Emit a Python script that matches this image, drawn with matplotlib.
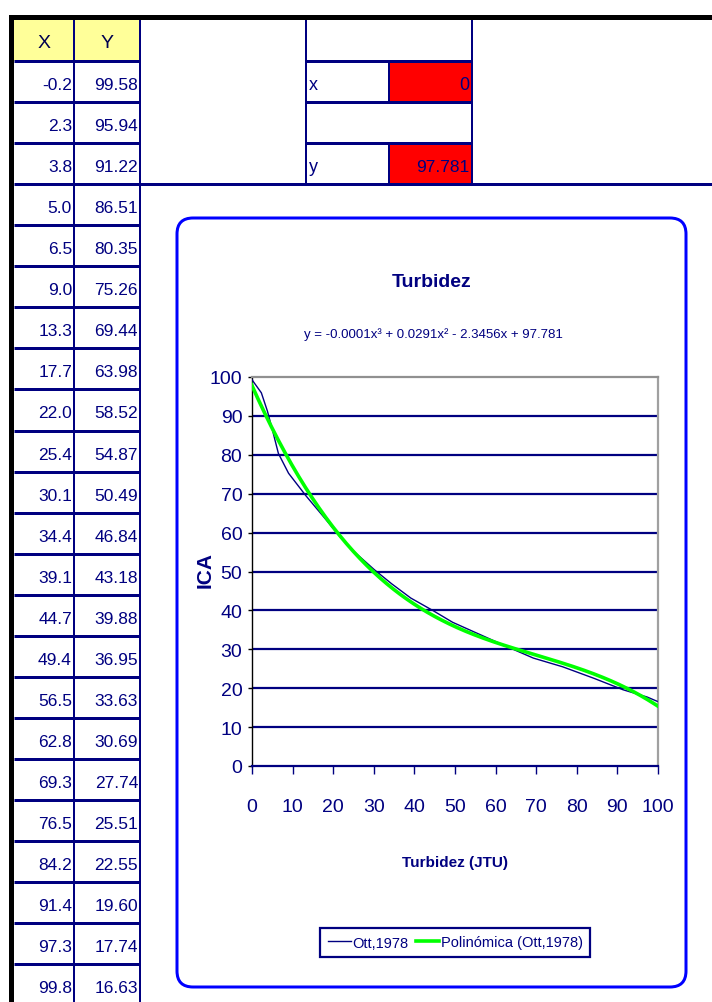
import numpy as np
import matplotlib
matplotlib.use("Agg")
import matplotlib.pyplot as plt
from matplotlib import font_manager as fm
from matplotlib.patches import Rectangle, FancyBboxPatch

# ---------------- data ----------------
X = [-0.2, 2.3, 3.8, 5.0, 6.5, 9.0, 13.3, 17.7, 22.0, 25.4, 30.1, 34.4,
     39.1, 44.7, 49.4, 56.5, 62.8, 69.3, 76.5, 84.2, 91.4, 97.3, 99.8]
Y = [99.58, 95.94, 91.22, 86.51, 80.35, 75.26, 69.44, 63.98, 58.52, 54.87,
     50.49, 46.84, 43.18, 39.88, 36.95, 33.63, 30.69, 27.74, 25.51, 22.55,
     19.60, 17.74, 16.63]
col_headers = ["X", "Y"]
calc_labels = ["x", "y"]
calc_x = 0
calc_y = 97.781
series_names = ["Ott,1978", "Polinómica (Ott,1978)"]
title = "Turbidez"
equation = "y = -0.0001x³ + 0.0291x² - 2.3456x + 97.781"
xlabel = "Turbidez (JTU)"
ylabel = "ICA"
xticks = list(range(0, 101, 10))
yticks = list(range(0, 101, 10))

# ---------------- fonts ----------------
names = {f.name for f in fm.fontManager.ttflist}
if "Liberation Sans Narrow" in names:
    FAM = ["Liberation Sans Narrow", "DejaVu Sans"]
else:
    FAM = ["Liberation Sans", "DejaVu Sans"]
NARROW = dict(family=FAM)
WIDE = dict(family=["Liberation Sans", "DejaVu Sans"])

NAVY = "#000080"
W, H = 712, 1003
fig = plt.figure(figsize=(W / 100, H / 100), dpi=100)
bg = fig.add_axes([0, 0, 1, 1])
bg.set_xlim(0, W)
bg.set_ylim(H, 0)
bg.axis("off")

px = 0.72  # points per pixel

# ---------------- spreadsheet ----------------
top = 21
rh = 41.05
x0, x1, x2 = 14, 74, 140
bg.add_patch(Rectangle((x0, top), x2 - x0, rh, fc="#FFFF99", ec="none", zorder=1))
bg.add_patch(Rectangle((389, top + rh), 472 - 389, rh, fc="#FF0000", ec="none", zorder=1))
bg.add_patch(Rectangle((389, top + 3 * rh), 472 - 389, rh, fc="#FF0000", ec="none", zorder=1))

n_rows = len(X) + 1
for i in range(1, n_rows + 1):
    y = top + i * rh
    if y > H:
        break
    xe = W if i == 4 else x2
    bg.plot([x0, xe], [y, y], color=NAVY, lw=3 * px, zorder=3, solid_capstyle="butt")
for xv in (x1, x2):
    bg.plot([xv, xv], [top, H], color=NAVY, lw=2 * px, zorder=3)
for xv in (306, 472):
    bg.plot([xv, xv], [top, top + 4 * rh], color=NAVY, lw=2 * px, zorder=3)
for i in (1, 2, 3):
    y = top + i * rh
    bg.plot([306, 472], [y, y], color=NAVY, lw=3 * px, zorder=3, solid_capstyle="butt")
for i in (1, 3):
    y0 = top + i * rh
    bg.plot([389, 389], [y0, y0 + rh], color=NAVY, lw=2 * px, zorder=3)

bg.add_patch(Rectangle((9, 16), W - 9, 5, fc="black", ec="none", zorder=4))
bg.add_patch(Rectangle((9, 16), 5, H - 16, fc="black", ec="none", zorder=4))

bg.text((x0 + x1) / 2, top + rh / 2 + 2, col_headers[0], ha="center", va="center",
        fontsize=14, color="#000050", **NARROW, zorder=5)
bg.text((x1 + x2) / 2, top + rh / 2 + 2, col_headers[1], ha="center", va="center",
        fontsize=14, color="#000050", **NARROW, zorder=5)
for i, (xv, yv) in enumerate(zip(X, Y)):
    yc = top + (i + 1) * rh + rh / 2 + 3
    bg.text(x1 - 2, yc, f"{xv:.1f}", ha="right", va="center", fontsize=12.5,
            color=NAVY, **NARROW, zorder=5)
    bg.text(x2 - 2, yc, f"{yv:.2f}", ha="right", va="center", fontsize=12.5,
            color=NAVY, **NARROW, zorder=5)

bg.text(309, top + 1.5 * rh + 3, calc_labels[0], ha="left", va="center", fontsize=13,
        color=NAVY, **NARROW, zorder=5)
bg.text(469, top + 1.5 * rh + 3, f"{calc_x}", ha="right", va="center", fontsize=13,
        color=NAVY, **NARROW, zorder=5)
bg.text(309, top + 3.5 * rh + 3, calc_labels[1], ha="left", va="center", fontsize=13,
        color=NAVY, **NARROW, zorder=5)
bg.text(469, top + 3.5 * rh + 3, f"{calc_y:.3f}", ha="right", va="center", fontsize=12.5,
        color=NAVY, **NARROW, zorder=5)

# ---------------- chart frame ----------------
bg.add_patch(FancyBboxPatch((177, 219), 686 - 177, 988 - 219,
                            boxstyle="round,pad=0,rounding_size=16",
                            fc="white", ec="#0000FF", lw=3 * px, zorder=6))

bg.text(432, 282, title, ha="center", va="center", fontsize=14, fontweight="bold",
        color=NAVY, **NARROW, zorder=7)
bg.text(433, 335, equation, ha="center", va="center", fontsize=9.5,
        color=NAVY, **NARROW, zorder=7)
bg.text(455, 863, xlabel, ha="center", va="center", fontsize=11, fontweight="bold",
        color=NAVY, **NARROW, zorder=7)
bg.text(205, 570, ylabel, ha="center", va="center", fontsize=15, fontweight="bold",
        rotation=90, color=NAVY, **WIDE, zorder=7)

# ---------------- plot area ----------------
L, R, T, B = 252, 658, 378, 767
ax = fig.add_axes([L / W, 1 - B / H, (R - L) / W, (B - T) / H])
ax.set_zorder(8)
ax.set_facecolor("white")
ax.set_xlim(0, 100)
ax.set_ylim(0, 100)
ax.set_xticks(xticks)
ax.set_yticks(yticks)
for yv in yticks[1:-1]:
    ax.axhline(yv, color=NAVY, lw=1.6, zorder=1)
ax.spines["left"].set_color("black")
ax.spines["left"].set_linewidth(1.0)
ax.spines["bottom"].set_color(NAVY)
ax.spines["bottom"].set_linewidth(1.6)
ax.spines["top"].set_color("#909090")
ax.spines["top"].set_linewidth(1.6)
ax.spines["right"].set_color("#a0a0a0")
ax.spines["right"].set_linewidth(1.6)
ax.tick_params(axis="y", direction="out", length=3, width=1.0, color="black",
               pad=4, labelsize=14, labelcolor=NAVY)
ax.tick_params(axis="x", direction="out", length=6, width=1.0, color=NAVY,
               pad=17, labelsize=14, labelcolor=NAVY)
for lab in ax.get_xticklabels() + ax.get_yticklabels():
    lab.set_fontfamily(FAM)

coef = np.polyfit(X, Y, 3)
xs = np.linspace(min(X), max(X), 300)
ys = np.polyval(coef, xs)
h1, = ax.plot(X, Y, color=NAVY, lw=1.0, zorder=3, label=series_names[0])
h2, = ax.plot(xs, ys, color="#00FF00", lw=2.6, zorder=4, label=series_names[1])

leg = ax.legend(handles=[h1, h2], loc="center", ncol=2,
                bbox_to_anchor=(455 / W, 1 - 943.5 / H), bbox_transform=fig.transFigure,
                frameon=True, fancybox=False, edgecolor=NAVY, framealpha=1,
                handlelength=1.6, handletextpad=0.1, columnspacing=0.5,
                borderpad=0.5, borderaxespad=0,
                prop=dict(size=10.5, family=FAM))
leg.get_frame().set_linewidth(1.6)
for t in leg.get_texts():
    t.set_color(NAVY)

fig.savefig("out.png", dpi=100)
